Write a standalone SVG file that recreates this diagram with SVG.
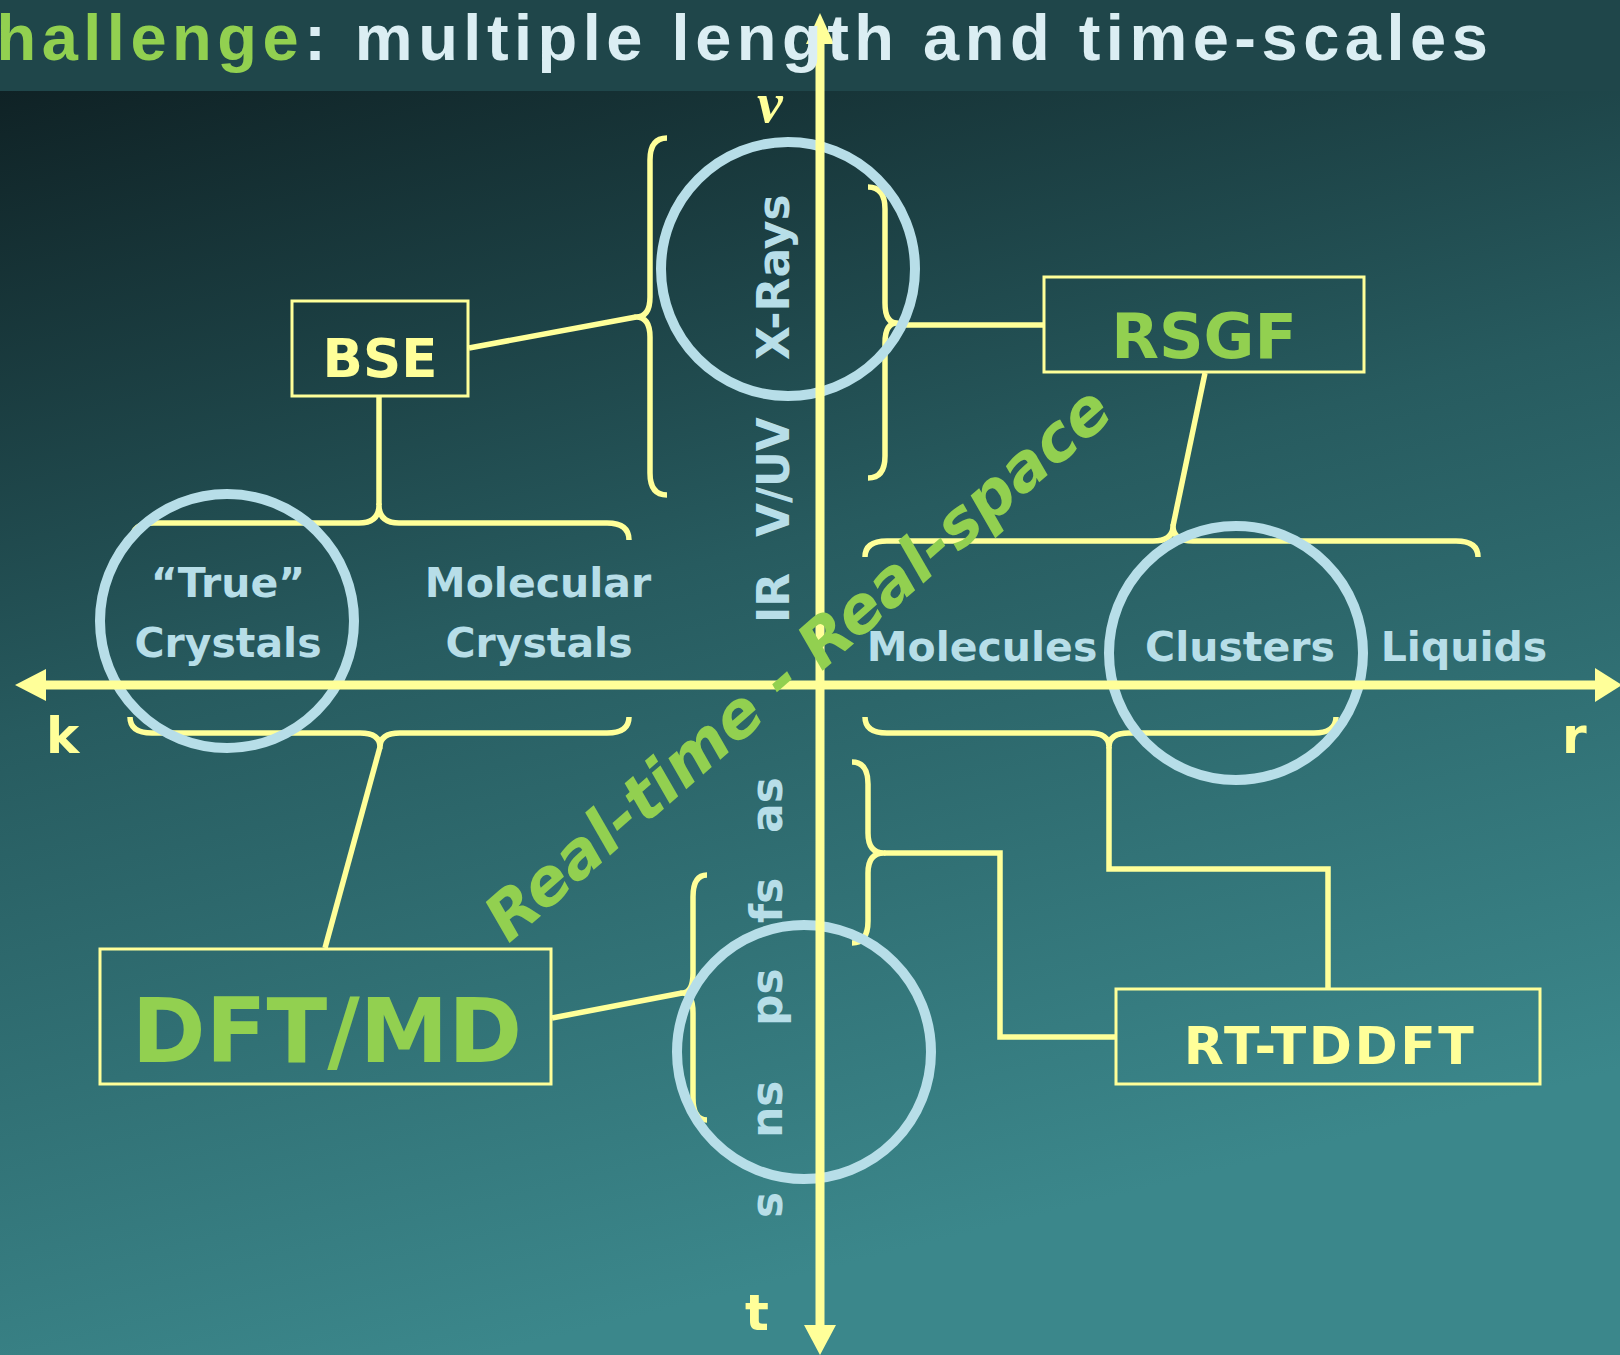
<svg xmlns="http://www.w3.org/2000/svg" width="1620" height="1355" viewBox="0 0 1620 1355">
  <defs>
    <linearGradient id="bg" x1="0" y1="0" x2="0.3" y2="1">
      <stop offset="0" stop-color="#0c1a1d"/>
      <stop offset="0.5" stop-color="#275b5f"/>
      <stop offset="1" stop-color="#3b878b"/>
    </linearGradient>
    <style>
      .brace { fill: none; stroke: #ffff99; stroke-width: 5.5; stroke-linecap: butt; stroke-linejoin: round; }
      .conn { fill: none; stroke: #ffff99; stroke-width: 5.5; stroke-linejoin: miter; }
      .box { fill: none; stroke: #ffff99; stroke-width: 3; }
      .axis { fill: none; stroke: #ffff99; stroke-width: 9; }
      .head { fill: #ffff99; }
      .ring { fill: none; stroke: #b7dee8; stroke-width: 10; }
      .lbl { font-family: "DejaVu Sans", Verdana, sans-serif; font-weight: bold; font-size: 41px; fill: #b7dee8; text-anchor: middle; }
      .vlbl { font-family: "DejaVu Sans", Verdana, sans-serif; font-weight: bold; font-size: 44px; fill: #b7dee8; }
      .tlbl { font-family: "DejaVu Sans", Verdana, sans-serif; font-weight: bold; font-size: 44px; fill: #b7dee8; }
      .axlbl { font-family: "DejaVu Sans", Verdana, sans-serif; font-weight: bold; font-size: 50px; fill: #ffff99; }
      .node { font-family: "DejaVu Sans", Verdana, sans-serif; font-weight: bold; text-anchor: middle; }
    </style>
  </defs>

  <rect x="0" y="0" width="1620" height="1355" fill="url(#bg)"/>
  <rect x="0" y="0" width="1620" height="91" fill="#1f464a"/>

  <g id="braces">
    <path id="brace-xray-left" class="brace" d="M667,138 Q650,138 650,160 L650,297 Q650,317 636,317 Q650,317 650,337 L650,473 Q650,495 667,495"/>
    <path id="brace-xray-right" class="brace" d="M868,187 Q885,187 885,209 L885,303 Q885,323 897,323 Q885,323 885,343 L885,456 Q885,478 868,478"/>
    <path id="brace-crystals-top" class="brace" d="M132,540 Q132,523 154,523 L359,523 Q379,523 379,505 Q379,523 399,523 L607,523 Q629,523 629,540"/>
    <path id="brace-crystals-bottom" class="brace" d="M130,717 Q130,733 152,733 L360,733 Q380,733 380,747 Q380,733 400,733 L607,733 Q629,733 629,717"/>
    <path id="brace-molecules-top" class="brace" d="M865,557 Q865,541 887,541 L1153,541 Q1173,541 1173,526 Q1173,541 1193,541 L1456,541 Q1478,541 1478,557"/>
    <path id="brace-molecules-bottom" class="brace" d="M865,717 Q865,733 887,733 L1089,733 Q1109,733 1109,747 Q1109,733 1129,733 L1314,733 Q1336,733 1336,717"/>
    <path id="brace-time-right" class="brace" d="M852,762 Q868,762 868,784 L868,833 Q868,853 884,853 Q868,853 868,873 L868,921 Q868,943 852,943"/>
    <path id="brace-time-left" class="brace" d="M707,875 Q693,875 693,897 L693,973 Q693,993 682,993 Q693,993 693,1013 L693,1098 Q693,1120 707,1120"/>
  </g>

  <g id="connectors">
    <line class="conn" x1="469" y1="348" x2="636" y2="317"/>
    <line class="conn" x1="379" y1="397" x2="379" y2="505"/>
    <line class="conn" x1="325" y1="948" x2="380" y2="747"/>
    <line class="conn" x1="552" y1="1018" x2="682" y2="993"/>
    <line class="conn" x1="897" y1="325" x2="1043" y2="325"/>
    <line class="conn" x1="1205" y1="373" x2="1173" y2="526"/>
    <polyline class="conn" points="1109,747 1109,869 1328,869 1328,988"/>
    <polyline class="conn" points="884,853 1000,853 1000,1037 1115,1037"/>
  </g>

  <g id="node-bse">
    <rect class="box" x="292" y="301" width="176" height="95"/>
    <text class="node" x="380" y="377" font-size="53" fill="#ffff99">BSE</text>
  </g>
  <g id="node-rsgf">
    <rect class="box" x="1044" y="277" width="320" height="95"/>
    <text class="node" x="1204" y="358" font-size="62" fill="#92d050">RSGF</text>
  </g>
  <g id="node-dftmd">
    <rect class="box" x="100" y="949" width="451" height="135"/>
    <text class="node" x="327" y="1062" font-size="89" fill="#92d050">DFT/MD</text>
  </g>
  <g id="node-rttddft">
    <rect class="box" x="1116" y="989" width="424" height="95"/>
    <text class="node" x="1330" y="1064" font-size="52" letter-spacing="2.5" fill="#ffff99">RT-TDDFT</text>
  </g>

  <g id="circles">
    <circle id="circle-xrays" class="ring" cx="788" cy="269" r="127"/>
    <circle id="circle-true-crystals" class="ring" cx="227" cy="621" r="127"/>
    <circle id="circle-clusters" class="ring" cx="1236" cy="653" r="127"/>
    <circle id="circle-ps" class="ring" cx="804" cy="1052" r="127"/>
  </g>

  <g id="axes">
    <line class="axis" x1="820" y1="42" x2="820" y2="1326"/>
    <polygon class="head" points="820,13 834,44 806,44"/>
    <polygon class="head" points="820,1355 836,1325 804,1325"/>
    <line class="axis" x1="45" y1="685" x2="1596" y2="685"/>
    <polygon class="head" points="15,685 46,669 46,701"/>
    <polygon class="head" points="1622,685 1595,668 1595,702"/>
  </g>

  <text id="title" x="-56" y="60" font-family="'Liberation Sans', Arial, sans-serif" font-weight="bold" font-size="65" letter-spacing="5.5" fill="#dbeef3"><tspan fill="#92d050">Challenge</tspan>: multiple length and time-scales</text>

  <g id="axis-labels">
    <text x="757" y="122" font-family="'Liberation Serif', 'DejaVu Serif', serif" font-style="italic" font-weight="bold" font-size="58" fill="#ffff99">ν</text>
    <text class="axlbl" x="46" y="753">k</text>
    <text class="axlbl" x="1562" y="753">r</text>
    <text class="axlbl" x="745" y="1330">t</text>
  </g>

  <g id="space-labels">
    <text class="lbl" x="228" y="597">“True”</text>
    <text class="lbl" x="228" y="657">Crystals</text>
    <text class="lbl" x="538" y="597">Molecular</text>
    <text class="lbl" x="539" y="657">Crystals</text>
    <text class="lbl" x="982" y="661">Molecules</text>
    <text class="lbl" x="1240" y="661">Clusters</text>
    <text class="lbl" x="1464" y="661">Liquids</text>
  </g>

  <g id="spectrum-labels">
    <text class="vlbl" transform="translate(789,360) rotate(-90)">X-Rays</text>
    <text class="vlbl" transform="translate(789,537) rotate(-90)">V/UV</text>
    <text class="vlbl" transform="translate(789,623) rotate(-90)">IR</text>
  </g>

  <g id="time-labels">
    <text class="tlbl" transform="translate(782,833) rotate(-90)">as</text>
    <text class="tlbl" transform="translate(782,923) rotate(-90)">fs</text>
    <text class="tlbl" transform="translate(782,1026) rotate(-90)">ps</text>
    <text class="tlbl" transform="translate(782,1138) rotate(-90)">ns</text>
    <text class="tlbl" transform="translate(782,1218) rotate(-90)">s</text>
  </g>

  <text id="diagonal" transform="translate(812,680) rotate(-41)" text-anchor="middle" font-family="'DejaVu Sans', Verdana, sans-serif" font-weight="bold" font-style="italic" font-size="64" fill="#92d050">Real-time - Real-space</text>
</svg>
